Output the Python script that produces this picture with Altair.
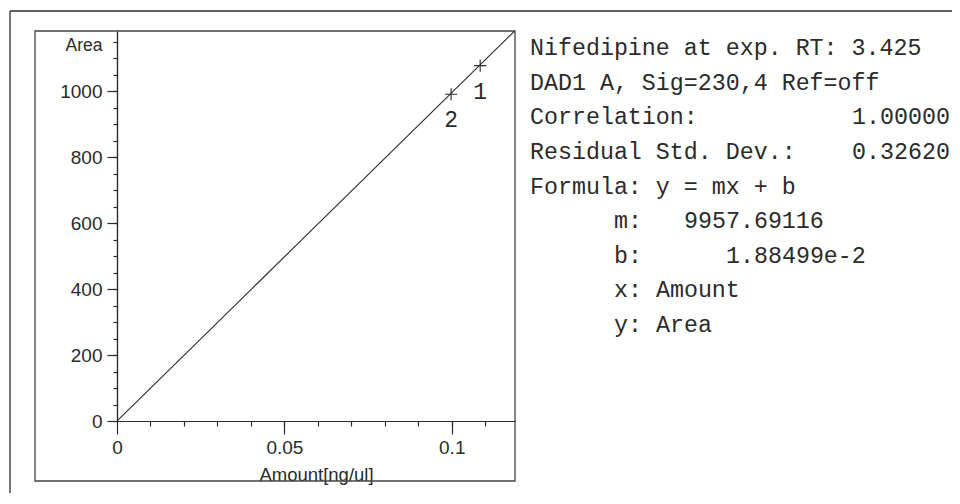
import altair as alt
import pandas as pd

# ---- calibration data ----
amount = [0.1085, 0.0998]
area = [1078, 991]
peak_labels = ["1", "2"]

# regression reported in the report
slope = 9957.69116
intercept = 1.88499e-2

x_domain = [0, 0.1189]
y_domain = [0, 1183]
x_major = [0, 0.05, 0.1]
x_minor = [0.01, 0.02, 0.03, 0.04, 0.05, 0.06, 0.07, 0.08, 0.09, 0.1, 0.11]
y_major = [0, 200, 400, 600, 800, 1000]
y_minor = [50, 100, 150, 200, 250, 300, 350, 400, 450, 500, 550, 600,
           650, 700, 750, 800, 850, 900, 950, 1000, 1050, 1100, 1150]

# ---- report text ----
label_text = ["Nifedipine at exp. RT: 3.425", "DAD1 A, Sig=230,4 Ref=off",
              "Correlation:", "Residual Std. Dev.:", "Formula: y = mx + b",
              "m:", "b:", "x: Amount", "y: Area"]
label_row = [0, 1, 2, 3, 4, 5, 6, 7, 8]
label_col = [0, 0, 0, 0, 0, 6, 6, 6, 6]
value_text = ["1.00000", "0.32620", "9957.69116", "1.88499e-2"]
value_row = [2, 3, 5, 6]
value_col = [23, 23, 11, 14]

INK = "#2b2b2b"
SANS = "Liberation Sans, Arial, sans-serif"
MONO = "Liberation Mono, Courier New, monospace"

pts = pd.DataFrame({"amount": amount, "area": area, "peak": peak_labels})
fit = pd.DataFrame({"amount": x_domain,
                    "area": [slope * v + intercept for v in x_domain]})
one = pd.DataFrame({"k": [0]})

xs = alt.Scale(domain=x_domain, nice=False, zero=False)
ys = alt.Scale(domain=y_domain, nice=False, zero=False)

minor_x_axis = alt.Axis(values=x_minor, tickSize=5, labels=False, title=None,
                        grid=False, orient="bottom", domainColor=INK,
                        tickColor=INK, domainWidth=1.2, tickWidth=1.2)
minor_y_axis = alt.Axis(values=y_minor, tickSize=4, labels=False, title=None,
                        grid=False, orient="left", domainColor=INK,
                        tickColor=INK, domainWidth=1.2, tickWidth=1.2)
major_x_axis = alt.Axis(values=x_major, tickSize=13, labelPadding=4,
                        labelFont=SANS, labelFontSize=19, labelColor=INK,
                        format="~g", grid=False, orient="bottom",
                        domainColor=INK, tickColor=INK, domainWidth=1.2,
                        tickWidth=1.2, labelFlush=False,
                        title="Amount[ng/ul]", titleFont=SANS,
                        titleFontSize=18.5, titleFontWeight="normal",
                        titleColor=INK, titlePadding=8)
major_y_axis = alt.Axis(values=y_major, tickSize=10, labelPadding=5,
                        labelFont=SANS, labelFontSize=19, labelColor=INK,
                        format="d", grid=False, orient="left",
                        domainColor=INK, tickColor=INK, domainWidth=1.2,
                        tickWidth=1.2, labelFlush=False,
                        title="Area", titleFont=SANS, titleFontSize=17.5,
                        titleFontWeight="normal", titleColor=INK,
                        titleAngle=0, titleAlign="right",
                        titleBaseline="middle", titleX=-15, titleY=14)

frame_top = alt.Chart(one).mark_rule(color=INK, strokeWidth=1.3).encode(
    x=alt.value(-107), x2=alt.value(850), y=alt.value(-20))
frame_left = alt.Chart(one).mark_rule(color=INK, strokeWidth=1.3).encode(
    x=alt.value(-107), y=alt.value(-20), y2=alt.value(480))
box = alt.Chart(one).mark_rect(fill="transparent", stroke="#444",
                               strokeWidth=1.3).encode(
    x=alt.value(-82), x2=alt.value(398), y=alt.value(0), y2=alt.value(450))

line = alt.Chart(fit).mark_line(color=INK, strokeWidth=1.1, clip=True).encode(
    x=alt.X("amount:Q", scale=xs, axis=minor_x_axis),
    y=alt.Y("area:Q", scale=ys, axis=minor_y_axis))

points = alt.Chart(pts).mark_point(
    shape="M-1,0L1,0M0,-1L0,1", size=150, filled=False, color=INK,
    strokeWidth=1.1, opacity=1).encode(
    x=alt.X("amount:Q", scale=xs, axis=major_x_axis),
    y=alt.Y("area:Q", scale=ys, axis=major_y_axis))

peak_text = alt.Chart(pts).mark_text(
    font=MONO, fontSize=23, color=INK, dy=26, baseline="middle").encode(
    x=alt.X("amount:Q", scale=xs, axis=None),
    y=alt.Y("area:Q", scale=ys, axis=None),
    text="peak:N")

plot = alt.layer(frame_top, frame_left, box, line, points, peak_text
                 ).resolve_axis(x="independent", y="independent")

report = pd.DataFrame({
    "row": label_row + value_row,
    "col": label_col + value_col,
    "txt": label_text + value_text,
})
text_layer = alt.Chart(report).mark_text(
    font=MONO, fontSize=23.3, color=INK, align="left",
    baseline="middle").encode(
    x=alt.X("col:Q", scale=alt.Scale(domain=[0, 30], range=[413, 833]),
            axis=None),
    y=alt.Y("row:Q", scale=alt.Scale(domain=[0, 8], range=[17, 294]),
            axis=None),
    text="txt:N")

chart = alt.layer(plot, text_layer).resolve_scale(
    x="independent", y="independent").properties(
    width=398, height=390,
    autosize=alt.AutoSizeParams(type="none"),
    padding={"left": 109, "top": 23, "right": 437, "bottom": 72},
    background="white",
).configure_view(stroke=None)

chart.save("out.html", embed_options={"renderer": "svg", "actions": False})
